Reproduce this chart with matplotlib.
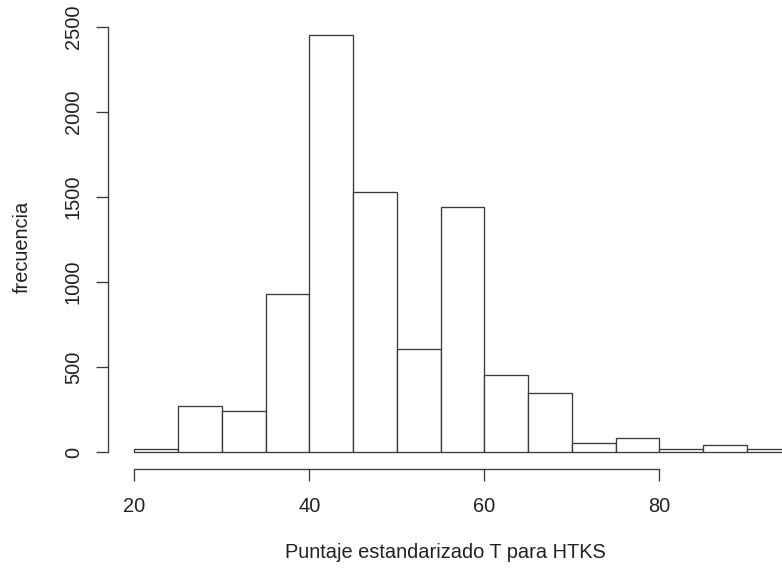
import matplotlib
matplotlib.use("Agg")
import matplotlib.pyplot as plt
import numpy as np

bin_edges = [20, 25, 30, 35, 40, 45, 50, 55, 60, 65, 70, 75, 80, 85, 90, 95]
counts = [16, 270, 243, 929, 2453, 1529, 606, 1441, 453, 347, 55, 80, 16, 39, 18]
x_ticks = [20, 40, 60, 80]
y_ticks = [0, 500, 1000, 1500, 2000, 2500]
xlabel = "Puntaje estandarizado T para HTKS"
ylabel = "frecuencia"

plt.rcParams['font.family'] = ['Liberation Sans', 'DejaVu Sans']
W, H = 782, 571
fig = plt.figure(figsize=(W / 100, H / 100), dpi=100)
fig.patch.set_facecolor('white')

# axes box in pixels
left_px, right_px, bottom_px, top_px = 120, 800, 460, 20
ax = fig.add_axes([left_px / W, 1 - bottom_px / H, (right_px - left_px) / W, (bottom_px - top_px) / H])
ax.set_facecolor('none')

line_c = '#3a3a3a'
lefts = np.array(bin_edges[:-1])
widths = np.diff(bin_edges)
ax.bar(lefts, counts, width=widths, align='edge', facecolor='white',
       edgecolor=line_c, linewidth=0.95)

px_per_x = 8.75
px_per_y = 0.17
ax.set_xlim(20 - (134.3 - left_px) / px_per_x, 20 + (right_px - 134.3) / px_per_x)
ax.set_ylim(-(bottom_px - 452) / px_per_y, 2500 + (27 - top_px) / px_per_y)

for s in ['top', 'right']:
    ax.spines[s].set_visible(False)
ax.spines['left'].set_position(('outward', 12 * 0.72))
ax.spines['bottom'].set_position(('outward', 9 * 0.72))
ax.spines['left'].set_bounds(0, 2500)
ax.spines['bottom'].set_bounds(20, 80)
for s in ['left', 'bottom']:
    ax.spines[s].set_color(line_c)
    ax.spines[s].set_linewidth(0.95)

ax.set_xticks(x_ticks)
ax.set_yticks(y_ticks)
ax.set_xticklabels([str(v) for v in x_ticks])
ax.set_yticklabels([str(v) for v in y_ticks], rotation=90, va='center')
ax.tick_params(axis='both', colors=line_c, labelcolor='#222222', labelsize=14.4,
               length=8.5, width=0.95)
ax.tick_params(axis='x', pad=11.5)
ax.tick_params(axis='y', pad=9.5)

fig.text(445 / W, 1 - 552 / H, xlabel, ha='center', va='center', fontsize=14.4, color='#222222')
fig.text(22 / W, 1 - 247 / H, ylabel, ha='center', va='center', rotation=90, fontsize=14.4, color='#222222')

fig.savefig('out.png', dpi=100)
